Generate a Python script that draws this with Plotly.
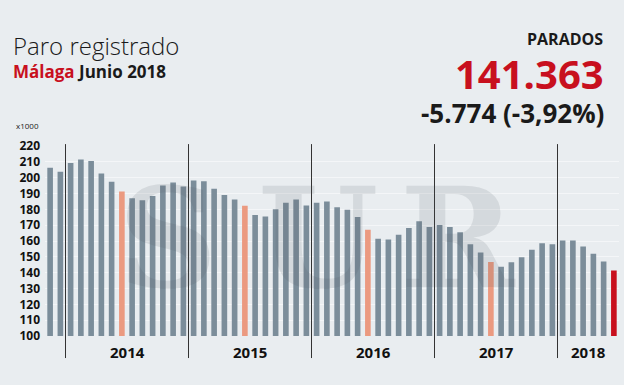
import plotly.graph_objects as go

# ---- data (thousands of registered unemployed, Málaga) ----
months = (["nov-13", "dic-13"] +
          [f"{m}-{y}" for y in ["14", "15", "16", "17"]
           for m in ["ene", "feb", "mar", "abr", "may", "jun", "jul", "ago", "sep", "oct", "nov", "dic"]] +
          ["ene-18", "feb-18", "mar-18", "abr-18", "may-18", "jun-18"])
values = [206.3, 203.7,
          209.2, 211.4, 210.5, 202.7, 197.4, 191.2, 187.0, 185.7, 188.5, 195.0, 197.0, 194.4,
          198.2, 197.8, 193.0, 189.1, 186.2, 182.3, 176.4, 175.4, 180.0, 184.1, 186.2, 182.5,
          184.1, 184.9, 181.3, 179.8, 175.2, 167.1, 161.4, 161.0, 163.9, 168.2, 172.4, 168.8,
          170.1, 168.8, 165.6, 158.0, 152.7, 146.8, 143.8, 146.6, 149.8, 154.4, 158.6, 158.0,
          160.3, 160.3, 156.5, 151.9, 147.1, 141.4]
years = ["2014", "2015", "2016", "2017", "2018"]
y_ticks = list(range(100, 221, 10))

BAR = "#7b8d9a"
JUNE = "#eb9a80"
LAST = "#c8101e"
BG = "#e9edf0"

colors = []
for i, m in enumerate(months):
    if i == len(months) - 1:
        colors.append(LAST)
    elif m.startswith("jun"):
        colors.append(JUNE)
    else:
        colors.append(BAR)

x = list(range(len(months)))
fig = go.Figure(go.Bar(x=x, y=values, marker=dict(color=colors, line=dict(width=0)),
                       hovertext=months, hoverinfo="text+y"))

# year separators (between dic and ene)
sep_idx = [i for i, m in enumerate(months) if m.startswith("ene")]
shapes = []
for i in sep_idx:
    shapes.append(dict(type="line", xref="x", yref="paper", x0=i - 0.5, x1=i - 0.5,
                       y0=-0.116, y1=1.01, line=dict(color="#333333", width=1)))

annotations = []
bounds = [i - 0.5 for i in sep_idx] + [len(months) - 0.5]
for k, yr in enumerate(years):
    xc = (bounds[k] + bounds[k + 1]) / 2
    annotations.append(dict(x=xc, y=-0.084, xref="x", yref="paper", text=yr, showarrow=False,
                            font=dict(family="Open Sans", size=15, color="#111111", weight="bold"),
                            xanchor="center", yanchor="middle"))

def px2x(px):
    return (px - 45) / 574.0

def py2y(py):
    return (336 - py) / 190.0

# watermark
for letter, cx in [("S", 168), ("U", 318), ("R", 458)]:
    annotations.append(dict(x=px2x(cx), y=py2y(238), xref="paper", yref="paper", text=letter,
                            showarrow=False, xanchor="center", yanchor="middle",
                            font=dict(family="DejaVu Serif", size=138, color="rgba(80,85,90,0.13)",
                                      weight="bold")))

annotations += [
    dict(x=px2x(11), y=py2y(46), xref="paper", yref="paper", text="Paro registrado", showarrow=False,
         xanchor="left", yanchor="middle",
         font=dict(family="Open Sans", size=24, color="#1a1a1a", weight=300)),
    dict(x=px2x(11), y=py2y(71), xref="paper", yref="paper",
         text="<span style='color:#c8101e'><b>Málaga</b></span> <b>Junio 2018</b>", showarrow=False,
         xanchor="left", yanchor="middle",
         font=dict(family="Open Sans", size=17, color="#1a1a1a")),
    dict(x=px2x(605), y=py2y(39), xref="paper", yref="paper", text="<b>PARADOS</b>", showarrow=False,
         xanchor="right", yanchor="middle",
         font=dict(family="Open Sans", size=16, color="#1a1a1a")),
    dict(x=px2x(606), y=py2y(74), xref="paper", yref="paper", text="<b>141.363</b>", showarrow=False,
         xanchor="right", yanchor="middle",
         font=dict(family="Open Sans", size=40, color="#c8101e")),
    dict(x=px2x(606), y=py2y(113), xref="paper", yref="paper", text="<b>-5.774 (-3,92%)</b>",
         showarrow=False, xanchor="right", yanchor="middle",
         font=dict(family="Open Sans", size=26, color="#1a1a1a")),
    dict(x=px2x(14), y=py2y(125), xref="paper", yref="paper", text="x1000", showarrow=False,
         xanchor="left", yanchor="middle",
         font=dict(family="Open Sans", size=8, color="#1a1a1a")),
]

fig.update_layout(
    width=624, height=385,
    margin=dict(l=45, r=5, t=146, b=49),
    paper_bgcolor=BG, plot_bgcolor=BG,
    bargap=0.45,
    showlegend=False,
    shapes=shapes,
    annotations=annotations,
    xaxis=dict(range=[-0.5, len(months) - 0.5], showticklabels=False, showgrid=False,
               zeroline=False, fixedrange=True),
    yaxis=dict(range=[100, 220], tickvals=y_ticks, ticktext=[str(t) for t in y_ticks],
               showgrid=True, gridcolor="rgba(255,255,255,0.5)", gridwidth=1, zeroline=False,
               ticks="", ticklabelstandoff=4,
               tickfont=dict(family="Open Sans", size=12, color="#111111", weight="bold")),
)

fig.write_html("out.html", config={"displayModeBar": False},
               post_script="document.body.style.margin='0';document.body.style.background='#e9edf0';")
